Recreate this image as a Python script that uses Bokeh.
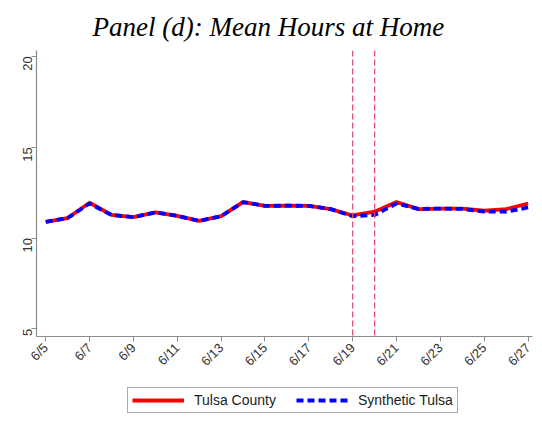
from bokeh.plotting import figure
from bokeh.layouts import column
from bokeh.models import Span, Legend, LegendItem, FixedTicker, Range1d
from bokeh.embed import file_html
from bokeh.resources import INLINE
import math

days = list(range(5, 28))
tulsa = [10.89, 11.10, 11.94, 11.27, 11.15, 11.41, 11.22, 10.94, 11.20, 11.98, 11.77, 11.78,
         11.77, 11.59, 11.24, 11.45, 11.98, 11.59, 11.62, 11.62, 11.50, 11.59, 11.90]
synthetic = [10.89, 11.10, 11.90, 11.27, 11.15, 11.41, 11.22, 10.94, 11.20, 11.98, 11.77, 11.78,
             11.77, 11.59, 11.20, 11.27, 11.90, 11.60, 11.62, 11.60, 11.45, 11.45, 11.68]
event_days = [19, 20]
x_ticks = list(range(5, 28, 2))
x_labels = [f"6/{d}" for d in x_ticks]
y_ticks = [5, 10, 15, 20]
series_names = ["Tulsa County", "Synthetic Tulsa"]

RED = "#ff0000"
BLUE = "#0000ff"

p = figure(width=534, height=376, output_backend="svg", toolbar_location=None,
           x_range=Range1d(4.58, 27.2), y_range=Range1d(4.58, 20.32),
           min_border_left=36, min_border_right=2, min_border_top=47, min_border_bottom=32)
p.title.text = "Panel (d): Mean Hours at Home"
p.title.align = "left"
p.title.offset = 56
p.title.text_font = "Liberation Serif"
p.title.text_font_style = "italic"
p.title.text_font_size = "27px"
p.title.text_color = "black"
p.title.text_line_height = 0.8
p.title.standoff = 18

p.outline_line_color = None
p.xgrid.grid_line_color = None
p.ygrid.grid_line_color = None

for ax in (p.xaxis[0], p.yaxis[0]):
    ax.axis_line_color = "#8c8c8c"
    ax.axis_line_width = 1.2
    ax.major_tick_line_color = "#8c8c8c"
    ax.minor_tick_line_color = None
    ax.major_tick_out = 5
    ax.major_tick_in = 0
    ax.major_label_text_font = "Liberation Sans"
    ax.major_label_text_font_size = "13px"
    ax.major_label_text_color = "#333333"
    ax.major_label_standoff = 4

p.xaxis.ticker = FixedTicker(ticks=x_ticks)
p.xaxis.major_label_overrides = {t: l for t, l in zip(x_ticks, x_labels)}
p.xaxis.major_label_orientation = math.pi / 4
p.yaxis.ticker = FixedTicker(ticks=y_ticks)
p.yaxis.major_label_orientation = math.pi / 2

for d in event_days:
    p.add_layout(Span(location=d, dimension="height", line_color="#e0506e",
                      line_dash="6 3", line_width=1.3))

p.line(days, tulsa, line_color=RED, line_width=3.8)
p.line(days, synthetic, line_color=BLUE, line_width=3.8, line_dash="7 4")

# legend panel below the chart (its key lines lie outside the visible range)
lf = figure(width=534, height=37, output_backend="svg", toolbar_location=None,
            x_range=Range1d(0, 1), y_range=Range1d(0, 1),
            x_axis_location=None, y_axis_location=None,
            min_border=0, outline_line_color=None)
lf.grid.visible = False
l1 = lf.line([-10, -9], [-10, -9], line_color=RED, line_width=3.8)
l2 = lf.line([-10, -9], [-10, -9], line_color=BLUE, line_width=3.8, line_dash="7 4")
legend = Legend(items=[LegendItem(label=series_names[0], renderers=[l1]),
                       LegendItem(label=series_names[1], renderers=[l2])],
                orientation="horizontal", location=(91, 0),
                border_line_color="#555555", border_line_width=1,
                label_text_font="Liberation Sans", label_text_font_size="14px",
                label_text_color="#222222", glyph_width=52, glyph_height=14,
                label_height=14, label_standoff=10, spacing=20,
                padding=4, margin=0, background_fill_alpha=0)
lf.add_layout(legend)

open("out.html", "w").write(file_html(column(p, lf, spacing=0), INLINE))
